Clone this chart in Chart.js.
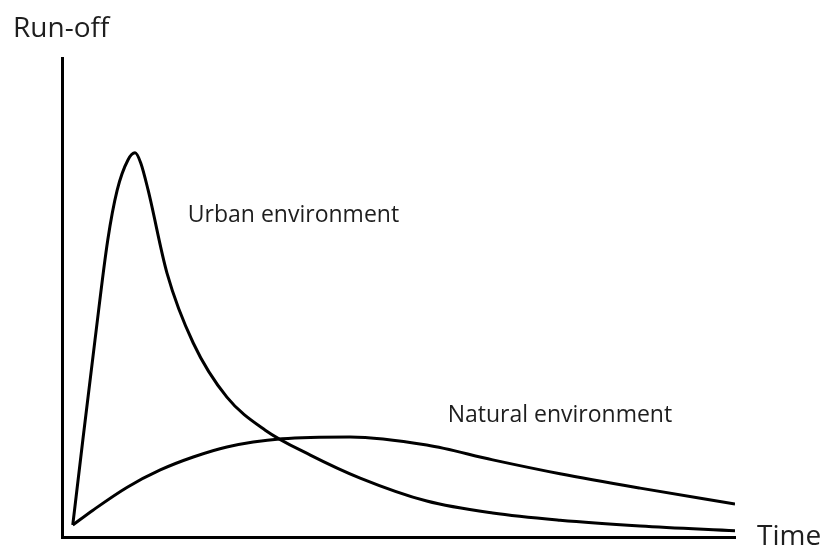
<!DOCTYPE html>
<html>
<head>
<meta charset="utf-8">
<script src="https://cdn.jsdelivr.net/npm/chart.js@4.4.0/dist/chart.umd.min.js"></script>
<style>
  html, body { margin: 0; padding: 0; background: #fff; }
  #wrap { width: 824px; height: 552px; }
</style>
</head>
<body>
<div id="wrap"><canvas id="runoff" width="824" height="552"></canvas></div>
<script>
// sketch values (x = time, y = run-off, both 0..100)
var urbanX = [1.6, 3.1, 4.9, 6.8, 8.2, 9.8, 10.85, 11.7, 12.8, 15.6, 19.5, 24.5, 30.2, 36.9, 44.3, 54.2, 64, 74, 85.9, 100];
var urbanY = [2.5, 20.3, 41.1, 62, 72.4, 78.7, 80.2, 78.1, 72.4, 55.1, 40.5, 29.2, 22.3, 17.1, 12.3, 7.5, 5, 3.5, 2.3, 1.3];
var naturalX = [1.6, 4.6, 9.7, 14.6, 19.5, 24.5, 32.7, 42.8, 54.2, 64, 74, 85.9, 100];
var naturalY = [2.5, 5.6, 10.4, 14, 16.7, 18.8, 20.5, 20.9, 19.2, 16.1, 13.2, 10.2, 6.9];

var labels = {
    yTitle: "Run-off",
    xTitle: "Time",
    urban: "Urban environment",
    natural: "Natural environment"
};

function pts(xs, ys) {
    return xs.map(function (x, i) { return { x: x, y: ys[i] }; });
}

var textPlugin = {
    id: 'sketchText',
    afterDraw: function (chart) {
        var c = chart.ctx;
        var a = chart.chartArea;
        c.save();
        c.fillStyle = '#1e1e1e';
        c.textBaseline = 'alphabetic';
        c.font = '28px "Open Sans"';
        c.fillText(labels.yTitle, 13, 37);
        c.fillText(labels.xTitle, a.right + 22, 545);
        c.font = '23px "Open Sans"';
        var xs = chart.scales.x, ys = chart.scales.y;
        c.fillText(labels.urban, xs.getPixelForValue(18.7), ys.getPixelForValue(65.8));
        c.fillText(labels.natural, xs.getPixelForValue(57.3), ys.getPixelForValue(24));
        c.restore();
    }
};

var ctx = document.getElementById('runoff').getContext('2d');
var chart = new Chart(ctx, {
    type: 'line',
    data: {
        datasets: [
            {
                label: labels.urban,
                data: pts(urbanX, urbanY),
                borderColor: '#000',
                borderWidth: 3,
                pointRadius: 0,
                fill: false,
                cubicInterpolationMode: 'monotone'
            },
            {
                label: labels.natural,
                data: pts(naturalX, naturalY),
                borderColor: '#000',
                borderWidth: 3,
                pointRadius: 0,
                fill: false,
                cubicInterpolationMode: 'monotone'
            }
        ]
    },
    options: {
        responsive: false,
        animation: false,
        layout: {
            padding: { left: 62, top: 58, right: 89, bottom: 15 }
        },
        plugins: {
            legend: { display: false },
            tooltip: { enabled: false }
        },
        scales: {
            x: {
                type: 'linear',
                min: 0,
                max: 100,
                grid: { display: false },
                ticks: { display: false },
                border: { display: true, color: '#000', width: 3 },
                afterFit: function (s) { s.height = 0; }
            },
            y: {
                min: 0,
                max: 100,
                grid: { display: false },
                ticks: { display: false },
                border: { display: true, color: '#000', width: 3 },
                afterFit: function (s) { s.width = 0; }
            }
        }
    },
    plugins: [textPlugin]
});
</script>
</body>
</html>
